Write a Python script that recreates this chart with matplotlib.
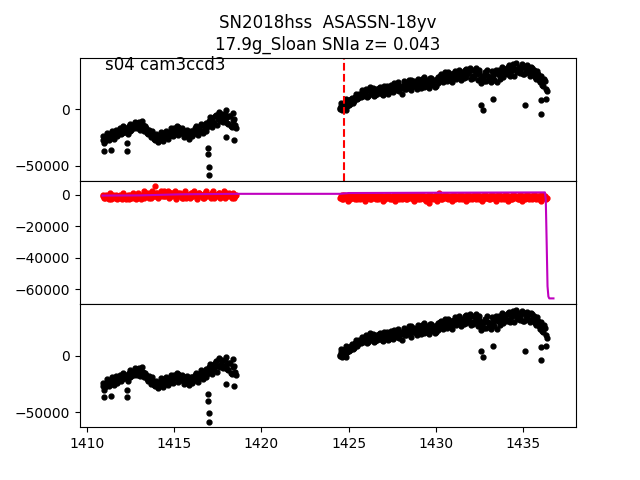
import numpy as np
import matplotlib
matplotlib.use("Agg")
import matplotlib.pyplot as plt

# light curve, flux in thousands, 0.1 d cadence
# (the "b" lists are the in-between samples, half a step later)
t1_start = 1410.9
flux1 = [-27, -30, -24, -26, -22, -25, -20, -23, -19, -22,
         -17, -21, -16, -20, -18, -15, -19, -14, -17, -12,
         -15, -11, -16, -14, -19, -17, -22, -20, -25, -22,
         -27, -24, -28, -23, -26, -21, -25, -22, -24, -19,
         -22, -17, -20, -16, -21, -18, -22, -19, -24, -20,
         -23, -19, -22, -17, -21, -16, -19, -14, -18, -12,
         -16, -10, -14, -8, -12, -5, -9, -3, -7, -11,
         -4, -8, -13, -6, -16, -10, -14]
flux1b = [-24, -28, -21, -27, -23, -19, -26, -18, -24, -20,
          -22, -15, -20, -17, -22, -13, -18, -16, -11, -17,
          -13, -18, -10, -17, -15, -21, -18, -23, -19, -26,
          -22, -29, -25, -20, -28, -24, -19, -26, -21, -17,
          -24, -19, -15, -23, -20, -17, -25, -21, -18, -26,
          -19, -24, -20, -15, -23, -18, -13, -21, -15, -19,
          -13, -7, -16, -11, -6, -14, -2, -10, -4, -9,
          -1, -12, -6, -15, -3, -9, -17]
t2_start = 1424.5
flux2 = [1, 4, 0, 6, 3, 8, 5, 10, 7, 12,
         9, 14, 11, 16, 13, 18, 12, 16, 14, 19,
         13, 17, 15, 20, 14, 19, 16, 21, 15, 20,
         17, 23, 18, 22, 16, 21, 19, 25, 18, 23,
         20, 26, 21, 24, 18, 25, 22, 27, 20, 24,
         26, 19, 28, 23, 26, 21, 29, 25, 31, 24,
         30, 27, 33, 26, 31, 28, 34, 29, 35, 30,
         33, 28, 36, 31, 34, 27, 35, 30, 37, 26,
         32, 23, 29, 33, 25, 30, 27, 34, 28, 32,
         24, 35, 30, 38, 33, 36, 31, 39, 34, 37,
         30, 41, 35, 32, 37, 31, 38, 33, 36, 30,
         37, 32, 29, 34, 26, 30, 22, 27, 18]
flux2b = [3, -1, 5, 2, 7, 4, 9, 6, 11, 14,
          10, 13, 17, 12, 15, 11, 17, 20, 15, 12,
          18, 14, 19, 16, 13, 21, 17, 14, 19, 22,
          15, 20, 17, 24, 19, 14, 22, 18, 21, 26,
          17, 22, 25, 20, 27, 23, 19, 24, 29, 21,
          24, 28, 22, 25, 20, 27, 23, 30, 26, 28,
          33, 25, 29, 31, 24, 32, 27, 30, 33, 26,
          31, 35, 29, 33, 37, 30, 28, 34, 31, 35,
          27, 30, 25, 31, 35, 28, 24, 31, 26, 35,
          31, 27, 34, 29, 36, 32, 38, 30, 35, 40,
          36, 33, 38, 34, 40, 31, 35, 39, 32, 38,
          34, 35, 27, 31, 24, 28, 21, 25, 16]
extra1 = [0, 2, 5, -1, 4]  # extra scatter at the start of segment 2
out_t = [1410.96, 1411.4, 1412.3, 1412.32, 1416.95, 1416.97, 1416.99, 1417.0,
         1418.0, 1418.45, 1424.55, 1424.7, 1424.85,
         1432.6, 1432.7, 1433.3, 1435.1, 1436.0, 1436.05, 1436.3]
out_f = [-37, -36, -30, -37, -34, -40, -51, -58.5,
         -25, -27, 6, 3, 9,
         4, -1, 9, 4, -4, 8, 9]

# middle panel: residual points and model
res1 = [-1, -2, 0, -2, -1, -3, 0, -2, -1, -2,
        0, -3, -1, -2, -1, -3, 0, -2, -1, -3,
        -2, 0, -3, -1, -2, 0, -1, 1, -2, 0,
        -1, 1, -2, 0, -1, 2, -1, 0, -2, 1,
        -1, 0, -3, 1, -1, 0, -2, 1, -2, 0,
        -2, 1, -1, 0, -3, 1, -1, 0, -2, 1,
        -1, 0, -2, 1, -2, 0, -1, 1, -1, 0,
        -2, 1, -1, 0, -2, 0, -1]
res1b = [0, -2, -1, -3, 1, -2, -1, 0, -3, -1,
         -2, 1, -1, -3, 0, -2, -1, 1, -2, -1,
         1, -1, 0, 2, -1, 1, -2, 0, 2, -1,
         1, -1, 0, 2, 1, -1, 0, 2, -1, 1,
         0, 2, -1, 0, 1, -2, 0, 2, 0, -1,
         1, -1, 2, 0, -1, 1, 0, -2, 1, 2,
         0, -1, 1, 2, -1, 0, 1, -2, 0, 2,
         -1, 0, 1, -1, 1, -2, 0]
res2 = [-2, 0, -3, -1, -2, 0, -3, -1, -2, -1,
        -3, 0, -2, -1, -3, 0, -2, -1, -3, 0,
        -2, -1, -3, 0, -2, -1, -3, 0, -1, -2,
        -3, 0, -2, -1, -3, 0, -2, -1, -3, 0,
        -2, -1, -3, 0, -2, -1, -3, 0, -2, -1,
        -3, 0, -2, -1, -3, 0, -2, 1, -3, -1,
        -2, 0, -3, -1, -2, 0, -3, -1, -2, 0,
        -3, -1, -2, 0, -3, -1, -2, 0, -3, 0,
        -2, -1, -3, 0, -2, -1, -3, 0, -2, -1,
        -3, 0, -2, -1, -3, 0, -2, -1, -3, 0,
        -2, -1, -3, 0, -2, -1, -3, 0, -2, -1,
        -3, 0, -2, -1, -3, 0, -2, -1, -3]
res2b = [-1, -3, 0, -2, -4, -1, -2, 0, -3, -2,
         -1, -3, -2, 0, -4, -1, -2, -3, 0, -1,
         -3, -2, 0, -1, -4, -2, -1, 0, -3, -2,
         -1, -4, 0, -2, -1, -3, 0, -2, -3, -1,
         0, -2, -4, -1, -3, 0, -2, -1, -3, -4,
         -1, 0, -3, -2, -1, -4, 0, -2, -3, -1,
         0, -2, -1, -3, -4, 0, -2, -1, -3, 0,
         -1, -2, -4, 0, -1, -3, -2, 0, -1, -3,
         -2, -4, 0, -1, -2, -3, 0, -2, -1, -4,
         0, -1, -3, -2, 0, -1, -4, -2, -3, 0,
         -1, -2, -3, 0, -4, -1, -2, 0, -3, -1,
         -2, 0, -3, -1, -2, -4, 0, -1, -2]
res_out_t = [1413.9, 1429.6]
res_out_f = [5.2, -5.5]
model_t = [1410.9, 1413.0, 1415.4, 1418.6, 1424.5, 1425.0, 1430.0, 1436.25,
           1436.30, 1436.35, 1436.40, 1436.45, 1436.50, 1436.74]
model_f = [-0.6, -0.5, 0.2, 0.5, 0.5, 1.0, 1.2, 1.4,
           -3, -30, -58, -64.5, -65.7, -65.7]

discovery = 1424.75

t1 = t1_start + 0.1 * np.arange(len(flux1))
t2 = t2_start + 0.1 * np.arange(len(flux2))
t_all = np.concatenate([t1, t1 + 0.05, t2, t2 + 0.05,
                        t2[:len(extra1)] + 0.03, out_t])
f_all = np.concatenate([flux1, flux1b, flux2, flux2b, extra1, out_f]) * 1000
r_t = np.concatenate([t1, t1 + 0.05, t2, t2 + 0.05, res_out_t])
r_f = np.concatenate([res1, res1b, res2, res2b, res_out_f]) * 1000

fig, ax = plt.subplots(3, 1, sharex=True, figsize=(6.4, 4.8))
plt.subplots_adjust(hspace=0)

ax[0].plot(t_all, f_all, 'k.', ms=7)
ax[0].axvline(discovery, color='r', ls='--', lw=1.5)
ax[0].set_title("SN2018hss  ASASSN-18yv\n17.9g_Sloan SNIa z= 0.043")
ax[0].text(0.05, 0.9, "s04 cam3ccd3", transform=ax[0].transAxes, fontsize=12)

ax[1].plot(r_t, r_f, 'r.', ms=7)
ax[1].plot(model_t, np.array(model_f) * 1000, 'm-', lw=1.5)

ax[2].plot(t_all, f_all, 'k.', ms=7)

plt.savefig("out.png", dpi=100)
